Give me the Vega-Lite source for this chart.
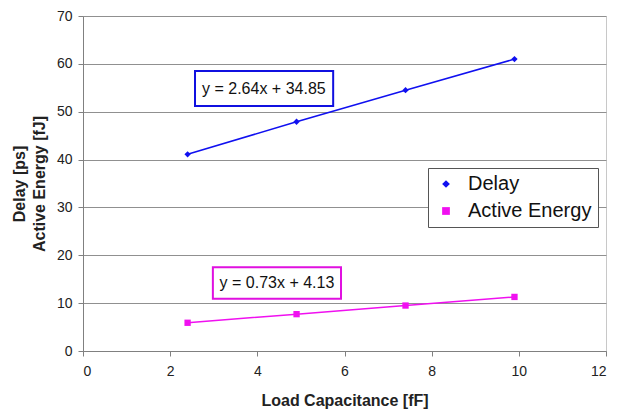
{
  "$schema": "https://vega.github.io/schema/vega-lite/v6.json",
  "width": 523,
  "height": 335,
  "autosize": {"type": "none"},
  "padding": {"left": 83, "top": 16, "right": 12, "bottom": 59},
  "background": "white",
  "config": {
    "font": "Liberation Sans",
    "view": {"stroke": "#c8c8c8", "strokeWidth": 1},
    "axis": {
      "labelFont": "Liberation Sans",
      "labelFontSize": 14,
      "labelColor": "#222222",
      "titleFont": "Liberation Sans",
      "titleFontSize": 16,
      "titleFontWeight": "bold",
      "titleColor": "#222222",
      "domainColor": "#808080",
      "tickColor": "#808080",
      "tickSize": 5,
      "gridColor": "#909090",
      "gridWidth": 1
    }
  },
  "datasets": {
    "points": [
      {"series": "Delay", "cap": 2.4, "value": 41.1},
      {"series": "Delay", "cap": 4.9, "value": 47.9},
      {"series": "Delay", "cap": 7.4, "value": 54.5},
      {"series": "Delay", "cap": 9.9, "value": 61.0},
      {"series": "Active Energy", "cap": 2.4, "value": 5.9},
      {"series": "Active Energy", "cap": 4.9, "value": 7.7},
      {"series": "Active Energy", "cap": 7.4, "value": 9.5},
      {"series": "Active Energy", "cap": 9.9, "value": 11.3}
    ],
    "equations": [
      {"series": "Delay", "label": "y = 2.64x + 34.85", "x": 4.15, "y": 54.8, "x1": 2.57, "x2": 5.74, "y1": 51.2, "y2": 58.5},
      {"series": "Active Energy", "label": "y = 0.73x + 4.13", "x": 4.45, "y": 14.2, "x1": 2.98, "x2": 5.92, "y1": 10.9, "y2": 17.5}
    ]
  },
  "layer": [
    {
      "data": {"name": "points"},
      "mark": {"type": "line", "strokeWidth": 1.5},
      "encoding": {
        "x": {"field": "cap", "type": "quantitative", "scale": {"domain": [0, 12]},
              "axis": {"title": "Load Capacitance [fF]", "values": [0, 2, 4, 6, 8, 10, 12], "grid": false, "titlePadding": 14, "labelPadding": 8}},
        "y": {"field": "value", "type": "quantitative", "scale": {"domain": [0, 70]},
              "axis": {"title": ["Delay [ps]", "Active Energy [fJ]"], "values": [0, 10, 20, 30, 40, 50, 60, 70], "grid": true, "titlePadding": 9, "labelPadding": 6, "titleLineHeight": 20}},
        "color": {"field": "series", "type": "nominal", "scale": {"domain": ["Delay", "Active Energy"], "range": ["#1010f0", "#f010f0"]},
                  "legend": {"orient": "none", "legendX": 345, "legendY": 152, "title": null, "labelFontSize": 20, "labelColor": "#111111", "labelFont": "Liberation Sans", "strokeColor": "#555555", "padding": 6, "rowPadding": 7, "symbolSize": 60, "symbolOffset": 2, "labelOffset": 12, "symbolOpacity": 1, "fillColor": "white", "symbolStrokeWidth": 0}}
      }
    },
    {
      "data": {"name": "points"},
      "mark": {"type": "point", "filled": true, "opacity": 1},
      "encoding": {
        "x": {"field": "cap", "type": "quantitative"},
        "y": {"field": "value", "type": "quantitative"},
        "color": {"field": "series", "type": "nominal"},
        "shape": {"field": "series", "type": "nominal", "scale": {"domain": ["Delay", "Active Energy"], "range": ["diamond", "square"]}},
        "size": {"value": 40}
      }
    },
    {
      "data": {"name": "equations"},
      "mark": {"type": "rect", "fill": "white", "strokeWidth": 2},
      "encoding": {
        "x": {"field": "x1", "type": "quantitative"},
        "x2": {"field": "x2"},
        "y": {"field": "y1", "type": "quantitative"},
        "y2": {"field": "y2"},
        "stroke": {"field": "series", "type": "nominal", "scale": {"domain": ["Delay", "Active Energy"], "range": ["#1010e0", "#e010e0"]}, "legend": null}
      }
    },
    {
      "data": {"name": "equations"},
      "mark": {"type": "text", "fontSize": 16, "font": "Liberation Sans", "color": "#111111", "align": "center", "baseline": "middle"},
      "encoding": {
        "x": {"field": "x", "type": "quantitative"},
        "y": {"field": "y", "type": "quantitative"},
        "text": {"field": "label", "type": "nominal"}
      }
    }
  ]
}
